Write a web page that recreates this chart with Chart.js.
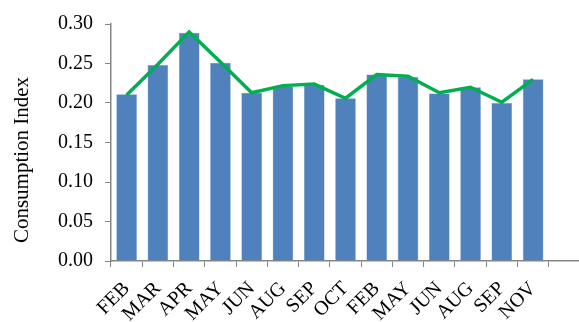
<!DOCTYPE html>
<html>
<head>
<meta charset="utf-8">
<script src="https://cdn.jsdelivr.net/npm/chart.js@4/dist/chart.umd.min.js"></script>
<style>
    html, body { margin: 0; padding: 0; background: #fff; overflow: hidden; }
    #wrap { position: relative; width: 580px; height: 322px; }
</style>
</head>
<body>
<div id="wrap"><canvas id="consumptionChart"></canvas></div>
<script>
// months along the x axis (last slot left empty)
const months = ['FEB', 'MAR', 'APR', 'MAY', 'JUN', 'AUG', 'SEP', 'OCT', 'FEB', 'MAY', 'JUN', 'AUG', 'SEP', 'NOV', ''];
const barValues = [0.211, 0.248, 0.289, 0.251, 0.213, 0.221, 0.223, 0.206, 0.236, 0.233, 0.212, 0.220, 0.200, 0.230, null];
const lineValues = [0.210, 0.249, 0.290, 0.252, 0.213, 0.222, 0.224, 0.206, 0.236, 0.234, 0.213, 0.220, 0.201, 0.230, null];
const yTicks = [0, 0.05, 0.10, 0.15, 0.20, 0.25, 0.30];
const yTitle = 'Consumption Index';

const serif = "'Liberation Serif', 'Times New Roman', serif";
const axisGray = '#868686';

// y axis title sits a bit below the middle of the axis
const yTitlePlugin = {
    id: 'yTitle',
    afterDraw(chart) {
        const ctx = chart.ctx;
        ctx.save();
        ctx.translate(22, 160);
        ctx.rotate(-Math.PI / 2);
        ctx.font = '21px ' + serif;
        ctx.fillStyle = '#000';
        ctx.textAlign = 'center';
        ctx.textBaseline = 'middle';
        ctx.fillText(yTitle, 0, 0);
        ctx.restore();
    }
};

const ctx = document.getElementById('consumptionChart').getContext('2d');
new Chart(ctx, {
    data: {
        labels: months,
        datasets: [{
            type: 'line',
            data: lineValues,
            borderColor: '#00B050',
            borderWidth: 3.5,
            pointRadius: 0,
            tension: 0,
            fill: false,
            order: 0
        }, {
            type: 'bar',
            data: barValues,
            backgroundColor: '#4F81BD',
            borderColor: '#6E96C8',
            borderWidth: 0.5,
            barPercentage: 0.66,
            categoryPercentage: 1,
            order: 1
        }]
    },
    options: {
        responsive: true,
        maintainAspectRatio: false,
        animation: false,
        layout: {
            padding: { top: 20, left: 0, right: 0, bottom: 0 }
        },
        plugins: {
            legend: { display: false },
            tooltip: { enabled: false }
        },
        scales: {
            x: {
                offset: true,
                grid: {
                    display: true,
                    drawOnChartArea: false,
                    drawTicks: true,
                    tickLength: 6,
                    color: axisGray,
                    offset: true
                },
                border: { color: axisGray, width: 1.5 },
                ticks: {
                    color: '#000',
                    font: { family: serif, size: 20 },
                    maxRotation: 45,
                    minRotation: 45,
                    autoSkip: false,
                    padding: 10
                },
                afterFit(scale) {
                    // keep the plot running to the right edge
                    scale.height = 61;
                    scale.paddingLeft = 0;
                    scale.paddingRight = 0;
                }
            },
            y: {
                min: 0,
                max: 0.3,
                afterBuildTicks(scale) {
                    scale.ticks = yTicks.map(v => ({ value: v }));
                },
                grid: {
                    display: true,
                    drawOnChartArea: false,
                    drawTicks: true,
                    tickLength: 6,
                    color: axisGray
                },
                border: { color: axisGray, width: 1.5 },
                ticks: {
                    color: '#000',
                    font: { family: serif, size: 20 },
                    padding: 12,
                    callback: value => value.toFixed(2)
                },
                afterFit(scale) {
                    scale.width = 111;
                }
            }
        }
    },
    plugins: [yTitlePlugin]
});
</script>
</body>
</html>
